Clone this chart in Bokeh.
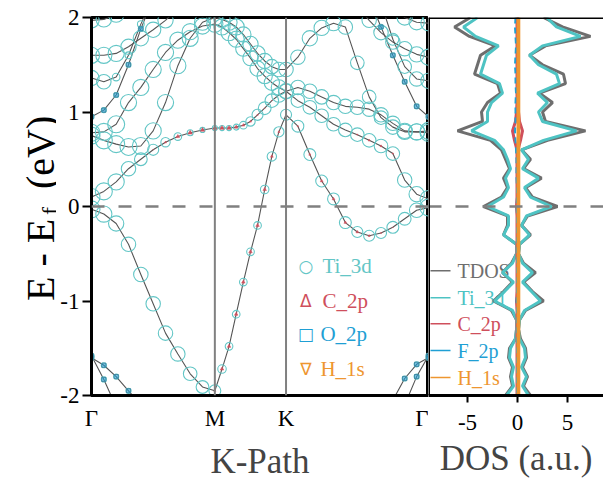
import numpy as np
from bokeh.plotting import figure
from bokeh.layouts import row
from bokeh.models import Span, Label, FixedTicker, Range1d
from bokeh.embed import file_html
from bokeh.resources import INLINE
from bokeh.core.properties import value

N = None
FONT = "Liberation Serif"

# ---------------- band-structure data ----------------
K_PTS = [0.0, 0.1, 0.2, 0.3, 0.4, 0.5, 0.6, 0.7, 0.8, 0.9, 1.0,
         1.058, 1.115, 1.173, 1.231, 1.289, 1.346, 1.404, 1.462, 1.519, 1.577,
         1.673, 1.770, 1.866, 1.962, 2.058, 2.155, 2.251, 2.347, 2.443, 2.539, 2.636, 2.732]
HS_TICKS = [0.0, 1.0, 1.577, 2.732]
HS_LABELS = ["Γ", "M", "K", "Γ"]

B1_E = ([-0.03, -0.08, -0.18, -0.40, -0.72, -1.03, -1.34, -1.56, -1.77, -1.91, -1.95]
        + [-1.72, -1.48, -1.14, -0.80, -0.48, -0.20, 0.18, 0.53, 0.79, 0.97]
        + [0.85, 0.55, 0.27, 0.08, -0.17, -0.27, -0.31, -0.28, -0.22, -0.13, -0.04, -0.01])
B1_TI = ([1.0, 0.95, 0.9, 0.85, 0.85, 0.85, 0.85, 0.85, 0.8, 0.75, 0.7]
         + [0.5, 0.45, 0.45, 0.45, 0.45, 0.45, 0.5, 0.55, 0.6, 0.65]
         + [0.7, 0.7, 0.7, 0.7, 0.7, 0.65, 0.65, 0.65, 0.7, 0.75, 0.85, 1.0])
B1_C = ([0, 0, 0, 0, 0, 0, 0, 0, 0, 0, 0.3]
        + [0.5, 0.5, 0.5, 0.5, 0.5, 0.5, 0.5, 0.4, 0.3, 0.2]
        + [0.2, 0.3, 0.4, 0.4, 0.4, 0.4, 0.3, 0.2, 0.1, 0, 0, 0])

B2_E = ([0.10, 0.16, 0.26, 0.40, 0.50, 0.60, 0.68, 0.74, 0.78, 0.81, 0.83]
        + [0.83, 0.83, 0.84, 0.86, 0.90, 0.97, 1.04, 1.12, 1.18, 1.22]
        + [1.12, 1.05, 0.96, 0.87, 0.81, 0.76, 0.70, 0.64, 0.56, 0.28, 0.13, 0.08])
B2_TI = ([1.0, 1.0, 0.95, 0.85, 0.75, 0.65, 0.55, 0.45, 0.35, 0.3, 0.3]
         + [0.3, 0.3, 0.35, 0.45, 0.55, 0.65, 0.75, 0.8, 0.85, 0.85]
         + [0.8, 0.8, 0.8, 0.8, 0.8, 0.8, 0.8, 0.8, 0.8, 0.85, 0.9, 1.0])
B2_C = ([0, 0, 0, 0, 0, 0.1, 0.3, 0.5, 0.6, 0.6, 0.6]
        + [0.6, 0.6, 0.5, 0.4, 0.3, 0.2, 0.1, 0.1, 0, 0]
        + [0, 0, 0, 0, 0, 0.2, 0.3, 0.3, 0.2, 0, 0, 0])

B3_E = ([0.75, 0.70, 0.66, 0.63, 0.64, 0.80, 1.10, 1.49, 1.78, 1.95, 2.00]
        + [1.98, 1.95, 1.90, 1.82, 1.72, 1.62, 1.54, 1.48, 1.45, 1.45]
        + [1.58, 1.78, 1.89, 1.94, 1.90, 1.52, 1.16, 0.94, 0.84, 0.79, 0.79, 0.80])
B3_TI = ([1.0, 1.0, 1.0, 1.0, 1.0, 0.95, 0.95, 0.95, 0.95, 0.95, 0.95]
         + [0.95, 0.95, 0.95, 0.9, 0.9, 0.9, 0.9, 0.85, 0.85, 0.85]
         + [0.85, 0.9, 0.9, 0.9, 0.85, 0.8, 0.8, 0.8, 0.85, 0.9, 0.95, 1.0])

B4_E = ([1.60, 1.60, 1.62, 1.69, 1.78, 1.87, 1.97, 2.10, N, N, N]
        + [N, N, N, N, N, N, N, N, N, N]
        + [N, N, N, N, N, 2.12, 1.97, 1.84, 1.74, 1.67, 1.61, 1.58])
B4_TI = ([0.95, 0.95, 0.95, 0.9, 0.9, 0.9, 0.9, 0.9, 0.9, 0.9, 0.9]
         + [0.9] * 10
         + [0.85, 0.85, 0.85, 0.85, 0.85, 0.85, 0.85, 0.85, 0.85, 0.85, 0.9, 0.95])

B5_E = ([0.78, 0.79, 0.87, 1.10, 1.26, 1.45, 1.63, 1.76, 1.85, 1.91, 1.93]
        + [1.90, 1.84, 1.77, 1.67, 1.57, 1.46, 1.38, 1.31, 1.26, 1.22]
        + [1.26, 1.22, 1.16, 1.10, 1.06, 1.05, 1.03, 0.97, 0.88, 0.80, 0.79, 0.78])
B5_TI = ([1.0, 1.0, 1.0, 0.95, 0.95, 0.95, 0.95, 0.95, 0.95, 0.95, 0.95]
         + [0.95, 0.95, 0.95, 0.9, 0.9, 0.9, 0.9, 0.9, 0.9, 0.9]
         + [0.85, 0.85, 0.85, 0.85, 0.85, 0.85, 0.85, 0.85, 0.85, 0.9, 0.95, 1.0])

B6_E = ([1.36, 1.32, 1.37, 1.60, 1.93, 2.20, N, N, N, N, N]
        + [N] * 10
        + [N, N, N, N, N, N, N, 2.15, 1.77, 1.48, 1.35, 1.33])
B6_TI = ([0.9, 0.85, 0.45, 0.4, 0.4, 0.4, 0.4, 0.4, 0.4, 0.4, 0.4]
         + [0.4] * 10
         + [0.6, 0.6, 0.6, 0.6, 0.6, 0.6, 0.6, 0.6, 0.7, 0.8, 0.85, 0.9])

B7_E = ([1.97, 1.98, 2.03, 2.12, N, N, N, N, N, N, N]
        + [N] * 10
        + [N, N, N, N, N, N, N, N, 2.12, 2.00, 1.95, 1.94])
B7_TI = [0.9] * 33

O1_E = ([0.95, 1.02, 1.18, 1.50, 1.88, 2.20, N, N, N, N, N]
        + [N] * 10
        + [N, N, N, N, N, N, 2.20, 1.90, 1.60, 1.32, 1.06, 0.95])
O2_E = ([-1.58, -1.83, -2.12, N, N, N, N, N, N, N, N]
        + [N] * 10
        + [N, N, N, N, N, N, N, N, N, -2.10, -1.80, -1.58])
O3_E = ([-1.60, -1.68, -1.80, -1.95, -2.10, N, N, N, N, N, N]
        + [N] * 10
        + [N, N, N, N, N, N, N, N, -2.05, -1.82, -1.67, -1.60])
O_TI = [0.3] * 33
O_WT = [0.6] * 33

# ---------------- DOS data ----------------
DOS_E = [2.0, 1.9, 1.8, 1.7, 1.6, 1.5, 1.4, 1.3, 1.2, 1.1, 1.0, 0.9, 0.8, 0.7, 0.6, 0.5, 0.4,
         0.3, 0.2, 0.1, 0.0, -0.1, -0.2, -0.3, -0.4, -0.5, -0.6, -0.7, -0.8, -0.9, -1.0,
         -1.1, -1.2, -1.3, -1.4, -1.5, -1.6, -1.7, -1.8, -1.9, -2.0]
TDOS_UP = [2.6, 4.5, 7.3, 2.8, 1.2, 2.5, 4.6, 4.8, 2.2, 3.5, 2.5, 2.8, 6.8, 3.0, 0.4, 1.3, 0.6,
           2.4, 0.8, 1.5, 4.0, 1.0, 0.4, 1.3, 0.2, 0.1, 0.6, 1.8, 0.6, 1.5, 2.6,
           0.8, 0.2, 0.1, 0.3, 0.8, 0.9, 0.5, 1.0, 0.6, 1.3]
TDOS_DN = [-4.7, -6.3, -4.8, -2.2, -3.7, -4.0, -4.3, -2.0, -1.7, -3.0, -3.6, -3.5, -6.0, -2.7,
           -1.6, -1.2, -0.8, -1.4, -1.0, -1.6, -3.4, -1.0, -1.0, -1.4, -0.1, -0.1, -0.6,
           -1.5, -0.5, -1.4, -2.4, -0.6, -0.1, -0.1, -0.2, -0.8, -0.9, -0.5, -0.7, -0.5, -1.2]
TI_UP = [2.9, 3.9, 6.3, 2.5, 1.2, 2.1, 3.9, 4.2, 2.0, 3.0, 2.1, 2.5, 5.9, 2.6, 0.4, 1.1, 0.5,
         2.1, 0.7, 1.3, 3.4, 0.9, 0.4, 1.2, 0.2, 0.1, 0.5, 1.5, 0.5, 1.4, 2.3,
         0.7, 0.2, 0.1, 0.2, 0.7, 0.8, 0.4, 0.9, 0.5, 1.1]
TI_DN = [-4.0, -5.4, -4.2, -1.9, -3.1, -3.4, -3.7, -1.8, -1.5, -2.6, -3.0, -3.0, -4.6, -2.3,
         -1.4, -1.0, -0.7, -1.2, -0.9, -1.4, -3.0, -0.9, -0.9, -1.4, -0.1, -0.1, -0.5,
         -1.5, -0.4, -1.3, -2.3, -0.5, -0.1, -0.1, -0.2, -0.7, -0.8, -0.4, -0.6, -0.4, -1.1]
C_UP = [0.05, 0.05, 0.05, 0.05, 0.05, 0.05, 0.05, 0.05, 0.05, 0.05, 0.1, 0.2, 0.5, 0.3, 0.05,
        0.05, 0.05, 0.05, 0.05, 0.05, 0.1, 0.05, 0.05, 0.05, 0.05, 0.05, 0.05, 0.05, 0.05,
        0.05, 0.1, 0.05, 0.05, 0.05, 0.05, 0.05, 0.05, 0.05, 0.05, 0.05, 0.05]
C_DN = [-0.05, -0.05, -0.05, -0.05, -0.05, -0.05, -0.05, -0.05, -0.05, -0.05, -0.1, -0.2, -0.5,
        -0.3, -0.05, -0.05, -0.05, -0.05, -0.05, -0.05, -0.1, -0.05, -0.05, -0.05, -0.05,
        -0.05, -0.05, -0.05, -0.05, -0.05, -0.1, -0.05, -0.05, -0.05, -0.05, -0.05, -0.05,
        -0.05, -0.05, -0.05, -0.05]
F_UP = [0.05] * 41
F_DN = [-0.2, -0.25, -0.2, -0.15, -0.2, -0.25, -0.2, -0.2, -0.15, -0.2, -0.2, -0.2, -0.25, -0.2,
        -0.15, -0.1, -0.1, -0.1, -0.05, -0.05, -0.1, -0.05, -0.05, -0.05, -0.05, -0.05, -0.05,
        -0.05, -0.05, -0.05, -0.1, -0.05, -0.05, -0.05, -0.05, -0.05, -0.05, -0.05, -0.05,
        -0.05, -0.05]
H_UP = [0.13] * 41
H_DN = [0.0] * 41
DOS_TICKS = [-5, 0, 5]
DOS_LEFT = -8.9

DOS_LEG_NAMES = ["TDOS", "Ti_3d", "C_2p", "F_2p", "H_1s"]
BAND_LEG = ["○", "Δ", "□", "∇"]
BAND_LEG_NAMES = ["Ti_3d", "C_2p", "O_2p", "H_1s"]
YTITLE = ["E - E", "f", "(eV)"]

# ---------------- colours ----------------
TEAL_C = "#63c6c6"
TEAL_D = "#4ec3c3"
GREY = "#6e6e6e"
RED = "#cf4f5c"
BLUE = "#1f9fd4"
ORANGE = "#ee9630"
LINEC = "#555555"

TOP, BOT = 17, 94
yr = Range1d(-2, 2)

# ---------------- y-title strip ----------------
t = figure(width=56, height=489, x_range=Range1d(0, 56), y_range=yr,
           output_backend="svg", toolbar_location=None, title=None,
           min_border_left=0, min_border_right=0, min_border_top=TOP, min_border_bottom=BOT)
t.xaxis.visible = False
t.yaxis.visible = False
t.xgrid.visible = False
t.ygrid.visible = False
t.outline_line_color = None
t.border_fill_alpha = 0
t.background_fill_alpha = 0
t.text(x=[40, 49, 40], y=[-1.0, -0.09, 0.185], text=YTITLE, angle=np.pi / 2,
       text_font=value(FONT), text_font_size=["40px", "24px", "40px"],
       text_align="left", text_baseline="alphabetic", text_color="black")

# ---------------- band figure ----------------
p = figure(width=372, height=489, x_range=Range1d(0, 2.732), y_range=yr,
           output_backend="svg", toolbar_location=None, title=None,
           min_border_left=35, min_border_right=0, min_border_top=TOP, min_border_bottom=BOT)
p.xgrid.visible = False
p.ygrid.visible = False
p.outline_line_color = "black"
p.outline_line_width = 3
p.background_fill_color = "white"
p.border_fill_alpha = 0

for ax in (p.xaxis, p.yaxis):
    ax.axis_line_width = 3
    ax.axis_line_color = "black"
    ax.major_tick_line_width = 2
    ax.major_tick_line_color = "black"
    ax.minor_tick_line_color = None
    ax.major_label_text_font = FONT
    ax.major_label_text_font_size = "23px"
    ax.major_label_text_color = "black"

p.xaxis.ticker = FixedTicker(ticks=HS_TICKS)
p.xaxis.major_label_overrides = {tk: lb for tk, lb in zip(HS_TICKS, HS_LABELS)}
p.xaxis.major_tick_out = 0
p.xaxis.major_tick_in = 0
p.xaxis.major_label_standoff = 10
p.xaxis.axis_label = "K-Path"
p.xaxis.axis_label_text_font = FONT
p.xaxis.axis_label_text_font_size = "35px"
p.xaxis.axis_label_text_font_style = "normal"
p.xaxis.axis_label_standoff = 8

p.yaxis.ticker = FixedTicker(ticks=[-2, -1, 0, 1, 2])
p.yaxis.major_label_overrides = {-2: "-2", -1: "-1", 0: "0", 1: "1", 2: "2"}
p.yaxis.major_tick_out = 9
p.yaxis.major_tick_in = 0
p.yaxis.major_label_standoff = 3

for tk in HS_TICKS[1:3]:
    p.add_layout(Span(location=tk, dimension="height", line_color="#808080", line_width=2))
p.add_layout(Span(location=0, dimension="width", line_color="#808080", line_width=2.5,
                  line_dash="13 14"))

k = np.array(K_PTS)
ti_bands = [(B1_E, B1_TI), (B2_E, B2_TI), (B3_E, B3_TI), (B4_E, B4_TI),
            (B5_E, B5_TI), (B6_E, B6_TI), (B7_E, B7_TI),
            (O1_E, O_TI), (O2_E, O_TI), (O3_E, O_TI)]
for e, w in ti_bands:
    p.line(k, np.array(e, dtype=float), line_color=LINEC, line_width=1.1)
for e, w in ti_bands:
    p.scatter(k, np.array(e, dtype=float), size=17 * np.array(w, dtype=float), marker="circle",
              fill_alpha=0, line_color=TEAL_C, line_width=1.1)
for e, c in [(B1_E, B1_C), (B2_E, B2_C)]:
    p.scatter(k, np.array(e, dtype=float), size=7 * np.array(c, dtype=float), marker="triangle",
              fill_color=RED, line_color=RED, line_width=0.5)
for e in (O1_E, O2_E, O3_E):
    p.scatter(k, np.array(e, dtype=float), size=7 * np.array(O_WT), marker="square",
              fill_color=BLUE, fill_alpha=0.6, line_color="#3b7f9a", line_width=0.8)

# band legend
leg_cols = [TEAL_C, RED, BLUE, ORANGE]
leg_y = [-0.628, -0.997, -1.346, -1.715]
leg_tx = [1.872, 1.872, 1.856, 1.856]
for sym, name, col, yy, tx in zip(BAND_LEG, BAND_LEG_NAMES, leg_cols, leg_y, leg_tx):
    p.add_layout(Label(x=1.738, y=yy, text=sym, text_align="center", text_baseline="middle",
                       text_font="DejaVu Sans", text_font_size="17px", text_color=col))
    p.add_layout(Label(x=tx, y=yy, text=name, text_align="left", text_baseline="middle",
                       text_font=FONT, text_font_size="21px", text_color=col))

# ---------------- DOS figure ----------------
q = figure(width=175, height=489, x_range=Range1d(DOS_LEFT, 8.6), y_range=yr,
           output_backend="svg", toolbar_location=None, title=None,
           min_border_left=0, min_border_right=0, min_border_top=TOP, min_border_bottom=BOT)
q.xgrid.visible = False
q.ygrid.visible = False
q.yaxis.visible = False
q.outline_line_color = None
q.background_fill_color = "white"
q.border_fill_alpha = 0
q.xaxis.ticker = FixedTicker(ticks=DOS_TICKS)
q.xaxis.major_label_overrides = {tk: str(tk) for tk in DOS_TICKS}
q.xaxis.axis_line_width = 3
q.xaxis.major_tick_out = 7
q.xaxis.major_tick_in = 0
q.xaxis.major_tick_line_width = 2
q.xaxis.minor_tick_line_color = None
q.xaxis.major_label_standoff = 12
q.xaxis.major_label_text_font = FONT
q.xaxis.major_label_text_font_size = "23px"
q.xaxis.major_label_text_color = "black"
q.xaxis.axis_label = "DOS (a.u.)"
q.xaxis.axis_label_text_font = FONT
q.xaxis.axis_label_text_font_size = "35px"
q.xaxis.axis_label_text_font_style = "normal"
q.xaxis.axis_label_standoff = 6

# legend (drawn beneath curves)
dleg_cols = [GREY, TEAL_D, RED, BLUE, ORANGE]
dleg_y = [-0.681, -0.966, -1.240, -1.525, -1.810]
q.segment(x0=[-8.7] * 5, y0=dleg_y, x1=[-6.7] * 5, y1=dleg_y, line_color=dleg_cols, line_width=1.5)
q.text(x=[-6.0] * 5, y=dleg_y, text=DOS_LEG_NAMES, text_color=dleg_cols,
       text_font=value(FONT), text_font_size=value("20px"), text_baseline="middle", text_align="left")

E = np.array(DOS_E)
q.line(TDOS_UP, E, line_color=GREY, line_width=3)
q.line(TDOS_DN, E, line_color=GREY, line_width=3)
q.line(TI_UP, E, line_color=TEAL_D, line_width=3)
q.line(TI_DN, E, line_color=TEAL_D, line_width=3)
q.line(C_UP, E, line_color=RED, line_width=3)
q.line(C_DN, E, line_color=RED, line_width=3)
q.line(F_UP, E, line_color=BLUE, line_width=2)
q.line(F_DN, E, line_color=BLUE, line_width=2, line_dash="6 4")
q.line(H_DN, E, line_color=ORANGE, line_width=2)
q.line(H_UP, E, line_color=ORANGE, line_width=3)

q.add_layout(Span(location=0, dimension="width", line_color="#808080", line_width=2.5,
                  line_dash="13 14"))
q.add_layout(Span(location=DOS_LEFT, dimension="height", line_color="black", line_width=3))
q.add_layout(Span(location=2, dimension="width", line_color="black", line_width=3))

layout = row(t, p, q)
open("out.html", "w").write(file_html(layout, INLINE))
